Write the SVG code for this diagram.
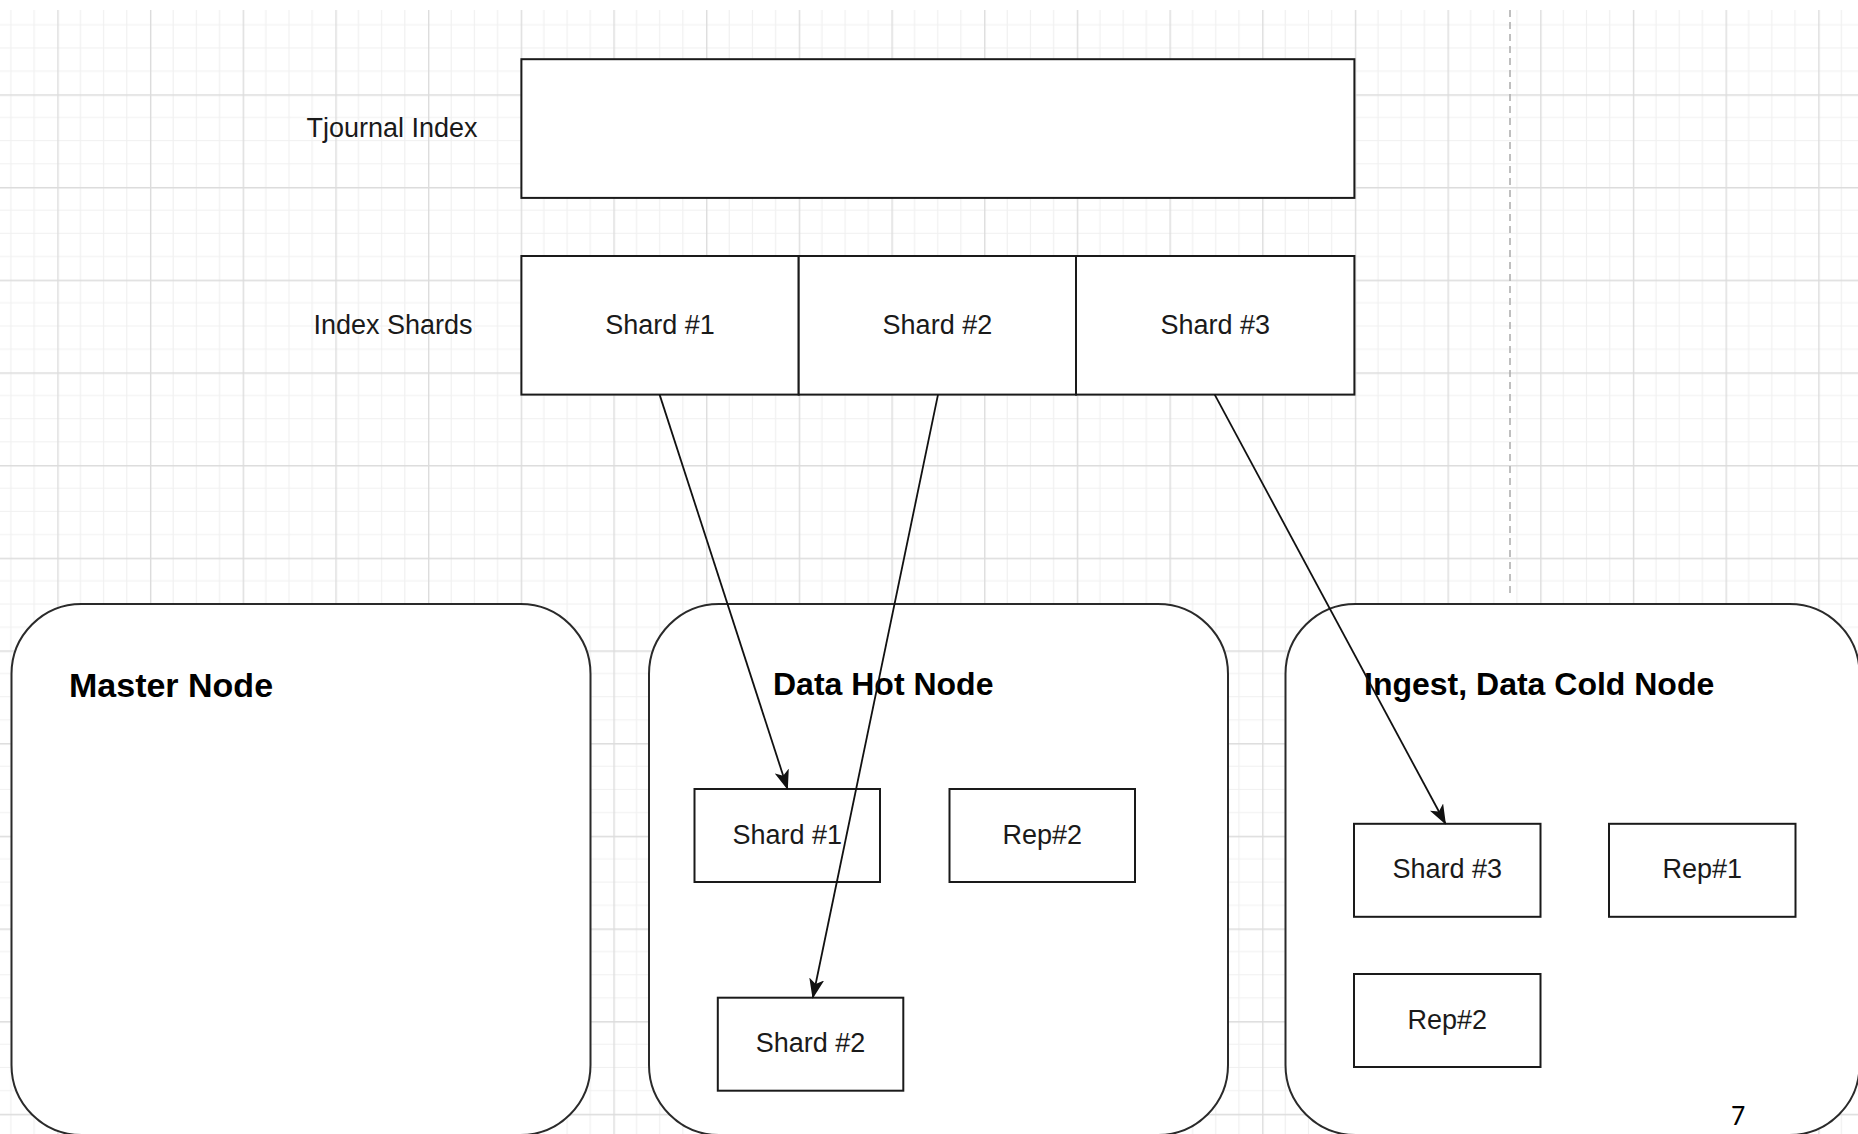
<svg xmlns="http://www.w3.org/2000/svg" width="1858" height="1134" viewBox="0 0 1858 1134">
  <defs>
    <pattern id="grid" patternUnits="userSpaceOnUse" x="57.3" y="94.3" width="92.68" height="92.68">
      <g stroke="#f0f0f0" stroke-width="1.2" fill="none">
        <line x1="23.17" y1="0" x2="23.17" y2="92.68"/>
        <line x1="46.34" y1="0" x2="46.34" y2="92.68"/>
        <line x1="69.51" y1="0" x2="69.51" y2="92.68"/>
        <line x1="0" y1="23.17" x2="92.68" y2="23.17"/>
        <line x1="0" y1="46.34" x2="92.68" y2="46.34"/>
        <line x1="0" y1="69.51" x2="92.68" y2="69.51"/>
      </g>
      <g stroke="#dcdcdc" stroke-width="1.4" fill="none">
        <line x1="0.7" y1="0" x2="0.7" y2="92.68"/>
        <line x1="0" y1="0.7" x2="92.68" y2="0.7"/>
      </g>
    </pattern>
    <marker id="arrow" viewBox="0 0 20 15" markerWidth="20" markerHeight="15" refX="19" refY="7.5" orient="auto" markerUnits="userSpaceOnUse">
      <path d="M0,0 L20,7.5 L0,15 L5,7.5 Z" fill="#111"/>
    </marker>
    <style>
      .box { fill: #ffffff; stroke: #1a1a1a; stroke-width: 2; }
      .container { fill: #ffffff; stroke: #2a2a2a; stroke-width: 2; }
      .lbl { font-family: "Liberation Sans", Arial, sans-serif; font-size: 27px; fill: #1a1a1a; text-anchor: middle; }
      .title { font-family: "Liberation Sans", Arial, sans-serif; font-weight: bold; fill: #000; }
      .edge { stroke: #111; stroke-width: 1.8; fill: none; marker-end: url(#arrow); }
    </style>
  </defs>

  <rect x="0" y="0" width="1858" height="1134" fill="#ffffff"/>
  <rect x="0" y="10" width="1858" height="1124" fill="url(#grid)"/>
  <line x1="1510" y1="10" x2="1510" y2="598" stroke="#ababab" stroke-width="1.5" stroke-dasharray="7 5"/>

  <g id="label-tjournal">
    <text class="lbl" x="392" y="136.5">Tjournal Index</text>
  </g>
  <g id="label-index-shards">
    <text class="lbl" x="393" y="334">Index Shards</text>
  </g>

  <g id="tjournal-index">
    <rect class="box" x="521.4" y="59.2" width="833" height="138.7"/>
  </g>

  <g id="index-shards">
    <g id="idx-shard1">
      <rect class="box" x="521.4" y="256" width="277.3" height="138.6"/>
      <text class="lbl" x="660" y="334">Shard #1</text>
    </g>
    <g id="idx-shard2">
      <rect class="box" x="798.7" y="256" width="277.3" height="138.6"/>
      <text class="lbl" x="937.4" y="334">Shard #2</text>
    </g>
    <g id="idx-shard3">
      <rect class="box" x="1076" y="256" width="278.4" height="138.6"/>
      <text class="lbl" x="1215.2" y="334">Shard #3</text>
    </g>
  </g>

  <g id="master-node">
    <rect class="container" x="11.5" y="604" width="579" height="531" rx="70" ry="70"/>
    <text class="title" x="69" y="697" font-size="34">Master Node</text>
  </g>

  <g id="data-hot-node">
    <rect class="container" x="649" y="604" width="579" height="531" rx="70" ry="70"/>
    <text class="title" x="773" y="695" font-size="32">Data Hot Node</text>
    <g id="hot-shard1">
      <rect class="box" x="694.5" y="789" width="185.5" height="93"/>
      <text class="lbl" x="787.3" y="843.5">Shard #1</text>
    </g>
    <g id="hot-rep2">
      <rect class="box" x="949.5" y="789" width="185.5" height="93"/>
      <text class="lbl" x="1042.3" y="843.5">Rep#2</text>
    </g>
    <g id="hot-shard2">
      <rect class="box" x="717.8" y="997.7" width="185.5" height="93"/>
      <text class="lbl" x="810.5" y="1052.2">Shard #2</text>
    </g>
  </g>

  <g id="ingest-cold-node">
    <rect class="container" x="1285.5" y="604" width="574" height="531" rx="70" ry="70"/>
    <text class="title" x="1364" y="695" font-size="32">Ingest, Data Cold Node</text>
    <g id="cold-shard3">
      <rect class="box" x="1354" y="823.8" width="186.5" height="93"/>
      <text class="lbl" x="1447.2" y="878.3">Shard #3</text>
    </g>
    <g id="cold-rep1">
      <rect class="box" x="1609" y="823.8" width="186.5" height="93"/>
      <text class="lbl" x="1702.2" y="878.3">Rep#1</text>
    </g>
    <g id="cold-rep2">
      <rect class="box" x="1354" y="974" width="186.5" height="93"/>
      <text class="lbl" x="1447.2" y="1028.5">Rep#2</text>
    </g>
  </g>

  <g id="connectors">
    <line class="edge" x1="659.6" y1="394.6" x2="787.5" y2="789"/>
    <line class="edge" x1="938" y1="394.6" x2="812.8" y2="997.7"/>
    <line class="edge" x1="1214.7" y1="394.6" x2="1445.5" y2="823.8"/>
  </g>

  <text x="1738" y="1125" font-family="Carlito, 'Liberation Sans', Arial, sans-serif" font-size="28" fill="#000" text-anchor="middle">7</text>
</svg>
